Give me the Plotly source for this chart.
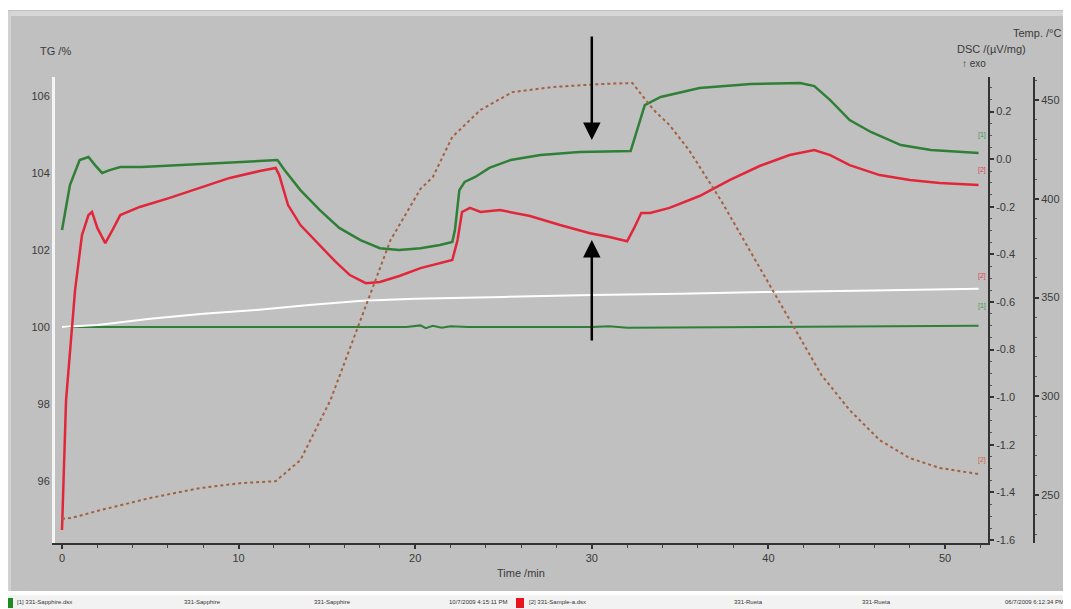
import plotly.graph_objects as go

# ---------------- data ----------------
dsc1_time = [0, 0.45, 1.0, 1.5, 1.87, 2.27, 2.7, 3.3, 4.5, 6.7, 9.5, 11.8, 12.2, 12.6, 13.5, 14.6,
             15.7, 16.9, 18.0, 19.1, 20.3, 21.4, 22.1, 22.25, 22.5, 22.8, 23.4, 24.2, 25.4, 27.1,
             29.3, 32.2, 32.4, 33.0, 33.9, 36.1, 39.0, 41.8, 42.6, 43.5, 44.6, 45.8, 47.5, 49.2, 51.9]
dsc1_values = [-0.298, -0.109, -0.004, 0.009, -0.025, -0.058, -0.046, -0.033, -0.033, -0.025, -0.012,
               -0.004, -0.004, -0.046, -0.130, -0.214, -0.289, -0.340, -0.374, -0.382, -0.374, -0.361,
               -0.348, -0.298, -0.130, -0.096, -0.075, -0.037, -0.004, 0.017, 0.030, 0.034, 0.080,
               0.227, 0.261, 0.299, 0.316, 0.320, 0.307, 0.248, 0.164, 0.114, 0.059, 0.038, 0.026]

dsc2_time = [0, 0.23, 0.74, 1.13, 1.5, 1.7, 2.0, 2.45, 2.8, 3.3, 4.4, 6.1, 7.8, 9.5, 11.2, 12.1, 12.3,
             12.8, 13.5, 14.6, 15.5, 16.3, 17.2, 18.0, 19.1, 20.3, 21.4, 22.1, 22.4, 22.65, 23.1, 23.7,
             24.8, 26.5, 28.2, 29.9, 31.0, 32.0, 32.4, 32.8, 33.3, 34.4, 36.1, 37.8, 39.5, 41.2, 42.6,
             43.5, 44.6, 46.3, 48.0, 49.7, 51.9]
dsc2_values = [-1.558, -1.012, -0.550, -0.319, -0.235, -0.222, -0.289, -0.353, -0.306, -0.235, -0.201,
               -0.163, -0.121, -0.079, -0.050, -0.037, -0.067, -0.193, -0.277, -0.361, -0.432, -0.487,
               -0.521, -0.516, -0.491, -0.458, -0.437, -0.424, -0.340, -0.222, -0.205, -0.222, -0.214,
               -0.239, -0.277, -0.311, -0.327, -0.345, -0.289, -0.226, -0.226, -0.205, -0.155, -0.088,
               -0.029, 0.017, 0.038, 0.017, -0.025, -0.067, -0.088, -0.100, -0.109]

tg1_time = [0, 5, 10, 15, 19.5, 20.3, 20.6, 21.0, 21.5, 22.0, 23.0, 30.0, 31.0, 32.0, 40.0, 45.0, 51.9]
tg1_values = [100.0, 100.0, 100.0, 100.0, 100.0, 100.04, 99.97, 100.03, 99.98, 100.02, 100.0, 100.0,
              100.02, 99.98, 100.0, 100.02, 100.03]

tg2_time = [0, 2, 5, 8, 11, 14, 17, 20, 25, 30, 35, 40, 45, 51.9]
tg2_values = [100.0, 100.05, 100.21, 100.34, 100.44, 100.57, 100.68, 100.73, 100.78, 100.83, 100.86,
              100.91, 100.94, 100.99]

temp_time = [0, 0.5, 2.2, 5.0, 7.8, 10.1, 12.1, 13.5, 15.2, 16.9, 18.6, 20.3, 21.0, 22.1, 23.7, 25.5,
             27.8, 30.5, 32.3, 32.7, 33.5, 34.4, 35.5, 37.3, 39.5, 41.2, 43.0, 44.6, 46.3, 48.0, 49.7, 51.9]
temp_values = [238.0, 238.3, 242.4, 248.5, 253.5, 256.0, 257.0, 267.7, 298.0, 338.6, 379.0, 405.0,
               411.0, 431.3, 445.0, 454.0, 456.6, 458.1, 458.6, 454.0, 445.0, 437.3, 424.7, 399.4,
               365.0, 338.6, 310.8, 293.0, 277.8, 268.7, 263.7, 260.6]

x_ticks = [0, 10, 20, 30, 40, 50]
tg_ticks = [96, 98, 100, 102, 104, 106]
dsc_ticks = [0.2, 0.0, -0.2, -0.4, -0.6, -0.8, -1.0, -1.2, -1.4, -1.6]
dsc_ticktext = ["0.2", "0.0", "-0.2", "-0.4", "-0.6", "-0.8", "-1.0", "-1.2", "-1.4", "-1.6"]
temp_ticks = [250, 300, 350, 400, 450]

legend_texts = ["[1] 331-Sapphire.dsx", "331-Sapphire", "331-Sapphire", "10/7/2009 4:15:11 PM",
                "[2] 331-Sample-a.dsx", "331-Rueta", "331-Rueta", "06/7/2009 6:12:34 PM"]

arrow_time = 30

# ---------------- layout geometry (page pixels) ----------------
PAGE_W, PAGE_H = 1071, 609
OFF = 8                      # html body margin
W, H = PAGE_W - OFF, PAGE_H - OFF
L, R, T, B = 55, 1034, 77, 543


def px(x):
    return (x - L) / (R - L)


def py(y):
    return (B - y) / (B - T)


BG = "#c0c0c0"
FONT = "Liberation Sans, Arial, sans-serif"
TXT = "#3a3a3a"
GREEN = "#2f7f36"
RED = "#e2263a"
BROWN = "#a3613f"

fig = go.Figure()

fig.add_trace(go.Scatter(x=temp_time, y=temp_values, yaxis="y3", mode="lines",
                         line=dict(color=BROWN, width=2, dash="dot"), name="Temp"))
fig.add_trace(go.Scatter(x=tg1_time, y=tg1_values, yaxis="y", mode="lines",
                         line=dict(color=GREEN, width=2), name="TG [1]"))
fig.add_trace(go.Scatter(x=tg2_time, y=tg2_values, yaxis="y", mode="lines",
                         line=dict(color="#ffffff", width=2), name="TG [2]"))
fig.add_trace(go.Scatter(x=dsc1_time, y=dsc1_values, yaxis="y2", mode="lines",
                         line=dict(color=GREEN, width=2.5), name="DSC [1]"))
fig.add_trace(go.Scatter(x=dsc2_time, y=dsc2_values, yaxis="y2", mode="lines",
                         line=dict(color=RED, width=2.5), name="DSC [2]"))

x0 = (L - 62) / 17.66
x1 = (988 - 62) / 17.66

tickfont = dict(family=FONT, size=11, color=TXT)

fig.update_layout(
    width=W, height=H, autosize=False,
    margin=dict(l=L - OFF, r=PAGE_W - R, t=T - OFF, b=PAGE_H - B, pad=0),
    paper_bgcolor=BG, plot_bgcolor=BG,
    showlegend=False,
    xaxis=dict(domain=[0, px(988)], range=[x0, x1], tickvals=x_ticks, showgrid=False, zeroline=False,
               showline=True, linecolor="#333333", linewidth=2, ticks="outside", ticklen=4,
               tickcolor="#333333", tickwidth=2, tickfont=tickfont,
               minor=dict(dtick=2, ticks="outside", ticklen=3, tickcolor="#444444", tickwidth=1)),
    yaxis=dict(range=[94.39, 106.49], tickvals=tg_ticks, showgrid=False, zeroline=False,
               showline=True, linecolor="#f4f4f4", linewidth=3, ticks="", tickfont=tickfont,
               side="left"),
    yaxis2=dict(range=[-1.6126, 0.345], tickvals=dsc_ticks, ticktext=dsc_ticktext, overlaying="y",
                side="right", anchor="x", showgrid=False, zeroline=False, showline=True,
                linecolor="#333333", linewidth=2, ticks="outside", ticklen=4, tickcolor="#333333",
                tickwidth=2, tickfont=tickfont,
                minor=dict(dtick=0.05, ticks="outside", ticklen=2, tickcolor="#555555", tickwidth=1)),
    yaxis3=dict(range=[225.7, 461.65], tickvals=temp_ticks, overlaying="y", side="right",
                anchor="free", position=1.0, showgrid=False, zeroline=False, showline=True,
                linecolor="#333333", linewidth=2, ticks="outside", ticklen=4, tickcolor="#333333",
                tickwidth=2, tickfont=tickfont,
                minor=dict(dtick=10, ticks="outside", ticklen=2, tickcolor="#555555", tickwidth=1)),
)

shapes = [
    dict(type="rect", xref="paper", yref="paper", x0=px(0), x1=px(PAGE_W), y0=py(0), y1=py(10),
         fillcolor="#ffffff", line=dict(width=0), layer="below"),
    dict(type="rect", xref="paper", yref="paper", x0=px(0), x1=px(PAGE_W), y0=py(11), y1=py(16),
         fillcolor="#d6d6d6", line=dict(width=0), layer="below"),
    dict(type="rect", xref="paper", yref="paper", x0=px(0), x1=px(11), y0=py(11), y1=py(592),
         fillcolor="#d2d2d2", line=dict(width=0), layer="below"),
    dict(type="rect", xref="paper", yref="paper", x0=px(0), x1=px(PAGE_W), y0=py(591), y1=py(PAGE_H),
         fillcolor="#f2f2f2", line=dict(width=0), layer="below"),
    dict(type="rect", xref="paper", yref="paper", x0=px(0), x1=px(PAGE_W), y0=py(591), y1=py(595),
         fillcolor="#ffffff", line=dict(width=0), layer="below"),
    dict(type="rect", xref="paper", yref="paper", x0=px(8), x1=px(13), y0=py(598), y1=py(608),
         fillcolor="#1f8a1f", line=dict(width=0)),
    dict(type="rect", xref="paper", yref="paper", x0=px(516), x1=px(524), y0=py(598), y1=py(608),
         fillcolor="#e8141e", line=dict(width=0)),
]
fig.update_layout(shapes=shapes)

ann = []


def text(s, x, y, xanchor="left", size=11, color=TXT):
    ann.append(dict(text=s, xref="paper", yref="paper", x=px(x), y=py(y), xanchor=xanchor,
                    yanchor="middle", showarrow=False, font=dict(family=FONT, size=size, color=color)))


text("TG /%", 38, 51)
text("Temp. /°C", 1063, 33, xanchor="right")
text("DSC /(µV/mg)", 1028, 49, xanchor="right")
text("↑ exo", 988, 63, xanchor="right", size=10)
text("Time /min", 521, 573, xanchor="center")

# curve end markers
text("[1]", 976, 135, size=7, color="#3f9a4a")
text("[2]", 976, 170, size=7, color="#e04050")
text("[2]", 976, 276, size=7, color="#e04050")
text("[1]", 976, 306, size=7, color="#3f9a4a")
text("[2]", 976, 460, size=7, color="#d06040")

# legend strip at the bottom
legend_x = [15, 182, 312, 447, 527, 732, 860, 1066]
for i, (s, x) in enumerate(zip(legend_texts, legend_x)):
    text(s, x, 602, xanchor="right" if i == len(legend_texts) - 1 else "left", size=6, color="#333333")

# arrows
ann.append(dict(x=arrow_time, y=py(140), xref="x", yref="paper", ax=0, ay=-105, axref="pixel",
                ayref="pixel", showarrow=True, arrowhead=2, arrowsize=1.4, arrowwidth=2.5,
                arrowcolor="#000000", text=""))
ann.append(dict(x=arrow_time, y=py(240), xref="x", yref="paper", ax=0, ay=102, axref="pixel",
                ayref="pixel", showarrow=True, arrowhead=2, arrowsize=1.4, arrowwidth=2.5,
                arrowcolor="#000000", text=""))

fig.update_layout(annotations=ann)

fig.write_html("out.html")
